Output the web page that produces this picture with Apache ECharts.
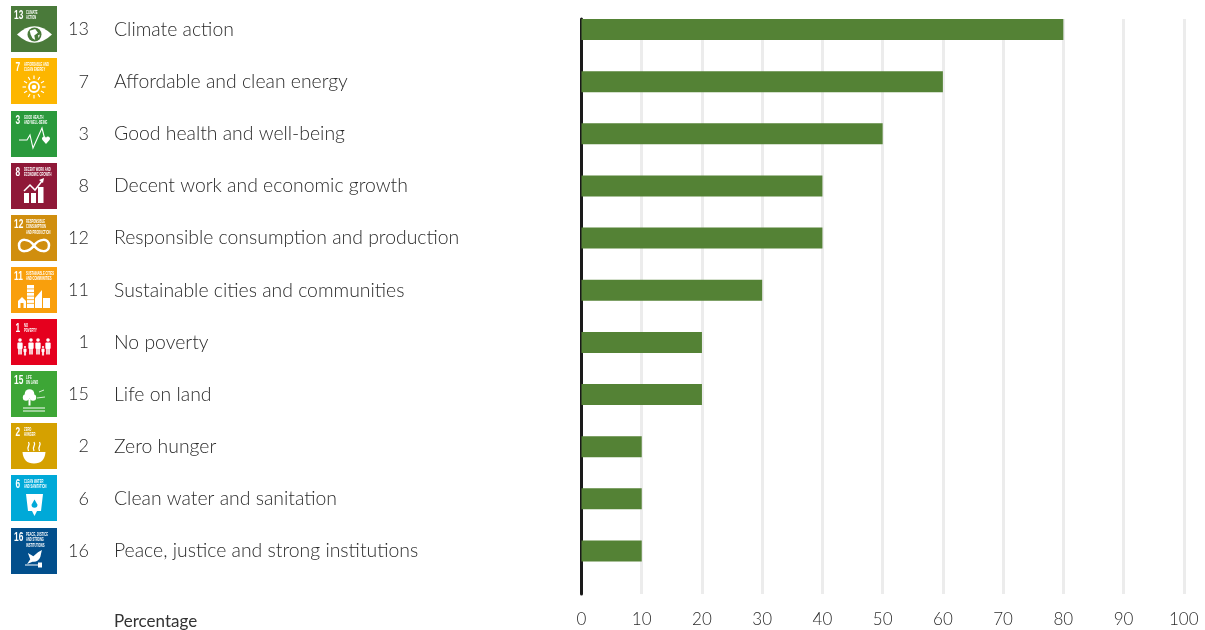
<!DOCTYPE html>
<html>
<head>
<meta charset="utf-8">
<style>html,body{margin:0;padding:0;background:#fff}#chart{width:1205px;height:630px}</style>
<script src="https://cdn.jsdelivr.net/npm/echarts@6/dist/echarts.min.js"></script>
</head>
<body>
<div id="chart"></div>
<script>
// SDG ranking: goal number, goal name, share of respondents in percent
const goalNumbers = ['13', '7', '3', '8', '12', '11', '1', '15', '2', '6', '16'];
const goalNames = [
  'Climate action', 'Affordable and clean energy', 'Good health and well-being',
  'Decent work and economic growth', 'Responsible consumption and production',
  'Sustainable cities and communities', 'No poverty', 'Life on land',
  'Zero hunger', 'Clean water and sanitation', 'Peace, justice and strong institutions'
];
const percentages = [80, 60, 50, 40, 40, 30, 20, 20, 10, 10, 10];
const tileColors = ['#4a7a3a', '#fdb600', '#2a9a3c', '#8f1838', '#d08e0e', '#f99f0c', '#e5001e', '#3da636', '#d5a100', '#00a9d8', '#024f8c'];
const tileCaptions = [
  'CLIMATE\nACTION', 'AFFORDABLE AND\nCLEAN ENERGY', 'GOOD HEALTH\nAND WELL-BEING',
  'DECENT WORK AND\nECONOMIC GROWTH', 'RESPONSIBLE\nCONSUMPTION\nAND PRODUCTION',
  'SUSTAINABLE CITIES\nAND COMMUNITIES', 'NO\nPOVERTY', 'LIFE\nON LAND',
  'ZERO\nHUNGER', 'CLEAN WATER\nAND SANITATION', 'PEACE, JUSTICE\nAND STRONG\nINSTITUTIONS'
];
const tickValues = { min: 0, max: 100, interval: 10 };

const BAR_COLOR = '#548235';
const TEXT = '#2b2b2b';
const FONT = 'Lato';
const W = '#fff';

// White pictogram of each goal, drawn in a 46x46 tile space
function person(x, y, s) {
  return [
    { type: 'circle', shape: { cx: x, cy: y, r: 1.5 * s }, style: { fill: W } },
    { type: 'rect', shape: { x: x - 2.2 * s, y: y + 2 * s, width: 4.4 * s, height: 5.5 * s, r: 1 }, style: { fill: W } },
    { type: 'rect', shape: { x: x - 1.5 * s, y: y + 7 * s, width: 1.3 * s, height: 5 * s }, style: { fill: W } },
    { type: 'rect', shape: { x: x + 0.2 * s, y: y + 7 * s, width: 1.3 * s, height: 5 * s }, style: { fill: W } }
  ];
}
function pictogram(goal, bg) {
  const line = (w) => ({ fill: null, stroke: W, lineWidth: w });
  switch (goal) {
    case '13': return [
      { type: 'path', shape: { pathData: 'M6 29 Q23 13 40 29 Q23 45 6 29 Z', x: 6, y: 20, width: 35, height: 17 }, style: { fill: W } },
      { type: 'circle', shape: { cx: 23.5, cy: 28.5, r: 7 }, style: { fill: bg } },
      { type: 'path', shape: { pathData: 'M18 25 L24 23 L27 27 L23 30 L24 35 L21 33 L19 29 Z M27 30 L29 29 L28 33 Z', x: 18.5, y: 23, width: 10.5, height: 11 }, style: { fill: W } }
    ];
    case '7': {
      const rays = [];
      for (let i = 0; i < 12; i++) {
        const a = i * Math.PI / 6, c = Math.cos(a), s = Math.sin(a);
        rays.push({ type: 'line', shape: { x1: 23 + 8 * c, y1: 29 + 8 * s, x2: 23 + 11.5 * c, y2: 29 + 11.5 * s }, style: line(1.2) });
      }
      return rays.concat([
        { type: 'circle', shape: { cx: 23, cy: 29, r: 5 }, style: line(1.8) },
        { type: 'circle', shape: { cx: 23, cy: 29, r: 2.3 }, style: { fill: W } }
      ]);
    }
    case '3': return [
      { type: 'polyline', shape: { points: [[8, 29], [16, 29], [19, 24], [22, 37], [31, 17], [34, 29]] }, style: line(1.1) },
      { type: 'path', shape: { pathData: 'M38 36 L33.5 31 A2.4 2.4 0 0 1 38 28.5 A2.4 2.4 0 0 1 42.5 31 Z', x: 31, y: 25.5, width: 8, height: 7.5 }, style: { fill: W } }
    ];
    case '8': return [
      { type: 'rect', shape: { x: 13, y: 30, width: 5, height: 10 }, style: { fill: W } },
      { type: 'rect', shape: { x: 20, y: 30, width: 5, height: 10 }, style: { fill: W } },
      { type: 'rect', shape: { x: 27, y: 24, width: 5.5, height: 16 }, style: { fill: W } },
      { type: 'polyline', shape: { points: [[13, 28], [19, 22], [24, 27], [31, 18]] }, style: line(1.5) },
      { type: 'polygon', shape: { points: [[33, 15], [28, 17], [32, 20]] }, style: { fill: W } }
    ];
    case '12': return [
      { type: 'path', shape: { pathData: 'M23 29 C18 22 8 21 8 29 C8 37 18 36 23 29 C28 22 38 21 38 29 C38 37 28 36 23 29 Z', x: 8, y: 23, width: 30, height: 15 }, style: line(2.5) }
    ];
    case '11': {
      const stripes = [];
      for (let k = 0; k < 5; k++) {
        stripes.push({ type: 'rect', shape: { x: 16, y: 21.5 + k * 3.6, width: 7, height: 0.8 }, style: { fill: bg } });
      }
      return [
        { type: 'rect', shape: { x: 16, y: 18, width: 7, height: 23 }, style: { fill: W } },
        { type: 'polygon', shape: { points: [[24, 41], [24, 31], [31, 23], [31, 41]] }, style: { fill: W } },
        { type: 'rect', shape: { x: 32, y: 31, width: 7, height: 10 }, style: { fill: W } },
        { type: 'polygon', shape: { points: [[7, 41], [7, 34], [11, 30], [15, 34], [15, 41]] }, style: { fill: W } },
        { type: 'rect', shape: { x: 9.5, y: 36, width: 3, height: 5 }, style: { fill: bg } }
      ].concat(stripes);
    }
    case '1': return [].concat(
      person(9, 21, 1.2), person(14, 28, 0.7), person(20, 21, 1.2),
      person(27, 21, 1.2), person(32, 28, 0.7), person(37, 21, 1.2)
    );
    case '15': return [
      { type: 'circle', shape: { cx: 18.5, cy: 23, r: 4.8 }, style: { fill: W } },
      { type: 'circle', shape: { cx: 15, cy: 26.5, r: 3.2 }, style: { fill: W } },
      { type: 'circle', shape: { cx: 22, cy: 26.5, r: 3.2 }, style: { fill: W } },
      { type: 'rect', shape: { x: 17.5, y: 28, width: 2, height: 6.5 }, style: { fill: W } },
      { type: 'rect', shape: { x: 12, y: 36.5, width: 22, height: 1 }, style: { fill: W } },
      { type: 'rect', shape: { x: 12, y: 39.5, width: 22, height: 1 }, style: { fill: W } },
      { type: 'line', shape: { x1: 28, y1: 21, x2: 33, y2: 19 }, style: line(0.8) },
      { type: 'line', shape: { x1: 26, y1: 27, x2: 34, y2: 26 }, style: line(0.8) }
    ];
    case '2': return [
      { type: 'path', shape: { pathData: 'M11 30 L35 30 Q34 42 23 42 Q12 42 11 30 Z', x: 11, y: 29, width: 24, height: 11.5 }, style: { fill: W } },
      { type: 'path', shape: { pathData: 'M17 27 Q15 23 17 20 Q19 17 17 14', x: 16, y: 19, width: 3, height: 9 }, style: line(1.3) },
      { type: 'path', shape: { pathData: 'M23 27 Q21 23 23 20 Q25 17 23 14', x: 21.5, y: 19, width: 3, height: 9 }, style: line(1.3) },
      { type: 'path', shape: { pathData: 'M29 27 Q27 23 29 20 Q31 17 29 14', x: 27, y: 19, width: 3, height: 9 }, style: line(1.3) }
    ];
    case '6': return [
      { type: 'polygon', shape: { points: [[15, 19], [32, 19], [30, 36], [26, 36], [23.5, 41], [21, 36], [17, 36]] }, style: { fill: W } },
      { type: 'path', shape: { pathData: 'M23 23 L27 30 A4 4 0 1 1 19 30 Z', x: 20.5, y: 24, width: 6, height: 9 }, style: { fill: bg } }
    ];
    default: return [
      { type: 'path', shape: { pathData: 'M15 24 L22 28 L28 23 L33 20 L31 29 Q28 36 21 35 L14 38 L18 32 Z', x: 15, y: 22, width: 17, height: 14 }, style: { fill: W } },
      { type: 'rect', shape: { x: 14, y: 36.5, width: 17, height: 1 }, style: { fill: W } },
      { type: 'rect', shape: { x: 27, y: 34.5, width: 4, height: 5 }, style: { fill: W } }
    ];
  }
}

const chart = echarts.init(document.getElementById('chart'), null, { renderer: 'canvas' });

const catAxis = {
  type: 'category',
  gridIndex: 0,
  position: 'left',
  inverse: true,
  data: goalNumbers,
  axisLine: { show: false },
  axisTick: { show: false },
  splitLine: { show: false }
};
const labelText = { fontWeight: 300, color: TEXT, fontFamily: FONT };

chart.setOption({
  animation: false,
  backgroundColor: '#fff',
  textStyle: { fontFamily: FONT },
  grid: [
    { left: 581.5, width: 602.3, top: 3.5, height: 573.5, outerBoundsMode: 'none' },
    { left: 581.5, width: 602.3, top: 19, height: 575, outerBoundsMode: 'none' }
  ],
  xAxis: [
    { type: 'value', gridIndex: 0, ...tickValues, show: false },
    {
      type: 'value', gridIndex: 1, ...tickValues,
      axisLine: { show: false },
      axisTick: { show: false },
      splitLine: { show: true, lineStyle: { color: '#ececec', width: 3 } },
      axisLabel: { margin: 17, fontSize: 17, ...labelText, showMinLabel: true, showMaxLabel: true }
    }
  ],
  yAxis: [
    { ...catAxis, axisLabel: { interval: 0, align: 'right', margin: 492.5, fontSize: 18, padding: [2, 0, 0, 0], ...labelText } },
    { ...catAxis, data: goalNames, axisLabel: { interval: 0, align: 'left', margin: 467.5, fontSize: 19.4, ...labelText, overflow: 'none' } },
    { type: 'category', gridIndex: 1, data: [''], axisLine: { show: true, onZero: false, lineStyle: { color: '#1a1a1a', width: 3 } }, axisTick: { show: false }, axisLabel: { show: false } }
  ],
  graphic: [{
    type: 'text', left: 114, top: 613,
    style: { text: 'Percentage', fontSize: 17, fontWeight: 400, fontFamily: FONT, fill: '#333' }
  }],
  series: [
    {
      type: 'bar', xAxisIndex: 0, yAxisIndex: 0, z: 2,
      data: percentages, barWidth: 21, itemStyle: { color: BAR_COLOR }
    },
    {
      // SDG tiles sit in the same rows as the bars, left of the labels
      type: 'custom', xAxisIndex: 0, yAxisIndex: 0, z: 3, clip: false, silent: true,
      data: goalNumbers.map((g, i) => [0, i]),
      encode: { x: 0, y: 1 },
      renderItem(params, api) {
        const i = api.value(1);
        const y = api.coord([0, i])[1];
        const goal = goalNumbers[i];
        const wide = goal.length > 1;
        return {
          type: 'group', x: 11, y: Math.round(y - 23.3),
          children: [
            { type: 'rect', shape: { x: 0, y: 0, width: 46, height: 46 }, style: { fill: tileColors[i] } },
            { type: 'text', x: wide ? 3 : 4.5, y: 2.5, scaleX: 0.62, style: { text: goal, fontFamily: 'Liberation Sans', fontWeight: 700, fontSize: 13.5, fill: W } },
            { type: 'text', x: wide ? 15 : 13, y: 3.5, scaleX: 0.58, style: { text: tileCaptions[i], fontFamily: 'Liberation Sans', fontWeight: 700, fontSize: 4.6, lineHeight: 5.6, fill: W } }
          ].concat(pictogram(goal, tileColors[i]))
        };
      }
    }
  ]
});
</script>
</body>
</html>
